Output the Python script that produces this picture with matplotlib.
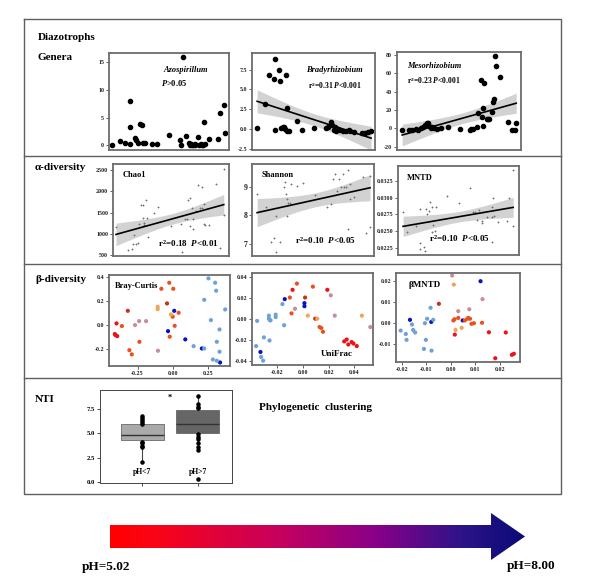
import numpy as np
import matplotlib
matplotlib.use('Agg')
import matplotlib.pyplot as plt
from matplotlib.colors import LinearSegmentedColormap
from matplotlib.patches import Polygon

plt.rcParams['font.family'] = ['Liberation Serif', 'DejaVu Serif']
plt.rcParams['font.weight'] = 'bold'
plt.rcParams['axes.unicode_minus'] = False
plt.rcParams['mathtext.fontset'] = 'custom'
plt.rcParams['mathtext.rm'] = 'Liberation Serif:bold'
plt.rcParams['mathtext.it'] = 'Liberation Serif:italic:bold'
plt.rcParams['mathtext.bf'] = 'Liberation Serif:bold'

# ---------------- data ----------------
# genera relative abundance vs soil pH
azo_ph = [5.04,5.23,5.37,5.49,5.49,5.50,5.61,5.65,5.71,5.75,5.79,5.82,5.89,6.06,6.20,6.51,6.79,6.81,6.85,6.94,
          7.01,7.05,7.08,7.10,7.13,7.16,7.18,7.24,7.28,7.32,7.36,7.39,7.41,7.44,7.53,7.76,7.83,7.93,7.94]
azo_y = [0.0,0.7,0.4,8.1,3.3,0.2,1.3,1.0,0.4,3.9,3.7,0.4,0.5,0.2,0.3,1.9,1.0,0.0,15.9,1.6,
         0.4,0.0,0.3,0.0,0.0,0.2,0.0,1.5,0.0,0.3,0.0,0.1,4.2,0.3,1.2,1.2,5.9,7.3,2.2]

br_ph = [5.08,5.27,5.39,5.50,5.53,5.53,5.62,5.65,5.67,5.72,5.76,5.77,5.81,5.82,5.84,5.89,6.08,6.20,6.52,6.82,
         6.86,6.95,6.96,7.01,7.03,7.07,7.12,7.16,7.24,7.33,7.39,7.41,7.52,7.71,7.81,7.88,7.95]
br_y = [0.09,3.12,6.84,6.32,8.80,-0.09,7.39,6.11,0.13,0.21,0.30,0.04,6.79,2.69,-0.21,-0.30,0.98,-0.17,0.13,0.13,
        0.30,0.90,0.47,-0.09,0.21,-0.21,0.04,-0.13,-0.30,-0.21,-0.13,-0.30,-0.38,-0.51,-0.47,-0.38,-0.21]
br_fit = (11.73, -1.62)   # intercept, slope of the drawn line

me_ph = [5.08,5.25,5.33,5.42,5.48,5.54,5.59,5.64,5.69,5.73,5.75,5.79,5.82,5.87,5.94,6.06,6.23,6.52,6.77,6.81,
         6.86,6.94,6.98,7.04,7.07,7.09,7.11,7.12,7.19,7.23,7.26,7.32,7.36,7.38,7.40,7.42,7.52,7.73,7.82,7.90,7.93]
me_y = [-1.8,-1.8,-1.8,-1.1,-1.8,0.0,1.1,3.6,5.5,5.5,2.5,0.0,1.8,0.0,-0.4,0.0,1.1,-1.1,-1.8,-1.1,
        -0.7,1.1,16.4,52.7,12.0,2.5,21.8,49.1,10.5,10.5,10.5,18.2,29.1,31.6,78.9,67.3,55.6,7.3,-1.8,-1.8,5.5]
me_fit = (-68.97, 12.14)

# alpha diversity vs soil pH
ch_ph = [5.03,5.34,5.47,5.48,5.50,5.57,5.61,5.64,5.69,5.75,5.75,5.77,5.78,5.84,5.85,5.88,6.05,6.16,6.49,6.78,
         6.80,6.87,6.92,6.96,7.01,7.02,7.05,7.08,7.09,7.16,7.23,7.27,7.32,7.34,7.38,7.39,7.40,7.51,7.71,7.80,7.91,7.91]
ch_y = [1159,611,635,762,968,762,786,1238,1683,1683,1381,1198,1262,1794,1381,929,1492,1643,1183,1222,
        571,1341,1341,1794,1857,1183,1619,1103,1341,1540,2151,1619,2095,1619,1699,1238,1198,1198,2175,667,2532,1445]

sh_ph = [5.08,5.30,5.43,5.51,5.56,5.56,5.67,5.76,5.79,5.82,5.84,5.84,5.86,5.91,5.95,6.10,6.25,6.55,6.86,6.97,
         7.00,7.07,7.12,7.16,7.20,7.26,7.29,7.35,7.38,7.44,7.44,7.40,7.55,7.78,7.85,7.95,7.95]
sh_y = [8.75,8.30,7.05,7.18,7.98,6.70,7.06,8.99,9.17,8.75,8.57,7.98,8.42,8.42,9.11,9.05,9.13,8.71,8.30,8.39,
        9.29,9.46,8.87,9.29,8.99,9.46,8.99,8.99,9.61,9.11,8.57,7.52,8.65,9.35,7.36,9.40,7.58]

mn_ph = [5.08,5.18,5.40,5.51,5.52,5.52,5.61,5.63,5.66,5.69,5.75,5.78,5.81,5.83,5.85,5.89,5.92,6.21,6.52,6.79,
         6.86,6.92,6.98,7.03,7.09,7.09,7.13,7.22,7.35,7.37,7.39,7.41,7.52,7.73,7.80,7.89,7.90,7.36]
mn_y = [0.0279,0.0249,0.0258,0.02315,0.0283,0.0223,0.02265,0.0220,0.0283,0.0275,
        0.0280,0.0294,0.02865,0.0249,0.0259,0.0250,0.02865,0.0302,0.02915,0.0314,
        0.0278,0.0278,0.02665,0.02815,0.0265,0.02615,0.0279,0.0271,0.02715,0.02865,
        0.0299,0.0273,0.0264,0.0265,0.0299,0.03415,0.0258,0.0233]

# beta diversity ordinations, group = pH colour class
bc_x = [-0.411,-0.406,-0.394,-0.399,-0.319,-0.361,-0.308,-0.291,-0.237,-0.082,-0.026,0.002,-0.042,0.012,0.040,-0.023,-0.002,
        -0.108,-0.108,-0.014,-0.268,-0.239,-0.190,-0.106,-0.035,0.009,0.087,0.204,0.333,
        0.146,0.221,0.221,0.251,0.268,0.298,0.305,0.310,0.282,0.310,0.329,0.329,0.369]
bc_y = [-0.074,-0.083,-0.091,0.014,0.118,-0.008,-0.207,-0.242,-0.138,0.300,0.350,0.300,0.179,-0.006,0.102,-0.096,0.069,
        0.152,0.132,0.088,0.000,0.033,0.033,-0.212,-0.050,0.118,-0.118,-0.193,-0.309,
        -0.174,0.209,-0.193,0.386,0.041,0.350,0.284,-0.138,-0.284,-0.295,-0.036,-0.220,0.129]
bc_g = ['r']*4 + ['br'] + ['ro']*7 + ['br'] + ['ro']*4 + ['o']*3 + ['m']*4 + ['db']*5 + ['lb']*13

uf_x = [-0.0359,-0.0367,-0.0333,-0.0328,-0.0312,-0.0306,-0.0267,-0.0267,-0.0259,-0.0254,
        -0.0262,-0.0214,-0.0214,-0.0161,-0.0148,-0.0143,-0.0103,-0.0082,-0.0090,-0.0063,
        -0.0048,0.0011,0.0011,0.0016,0.0037,0.0077,0.0095,0.0111,0.0129,0.0143,
        0.0156,0.0190,0.0217,0.0248,0.0322,0.0341,0.0354,0.0380,0.0394,0.0420,0.0460,0.0526]
uf_y = [-0.0018,-0.0256,-0.0312,-0.0359,-0.0394,-0.0174,0.0032,0.0003,-0.0012,-0.0012,
        -0.0203,0.0041,0.0018,0.0141,-0.0059,0.0188,0.0203,0.0276,0.0053,0.0097,
        0.0335,0.0150,0.0121,0.0203,0.0032,0.0306,0.0003,0.0003,-0.0076,-0.0085,
        -0.0121,0.0276,0.0224,0.0032,-0.0212,-0.0194,-0.0241,-0.0218,-0.0232,-0.0256,0.0032,-0.0076]
uf_g = ['lb','lb','db'] + ['lb']*12 + ['db','ro','r','ro','m','ro','db','db','br','o','ro','br','o',
                                       'ro','ro','ro','r','m','m'] + ['r']*6 + ['o','m']

bm_x = [-0.0205,-0.0184,-0.0181,-0.0167,-0.0159,-0.0154,-0.0146,-0.0110,-0.0106,-0.0102,
        -0.0097,-0.0083,-0.0080,-0.0079,-0.0072,-0.0049,0.0005,0.0012,0.0010,0.0015,
        0.0016,0.0019,0.0030,0.0030,0.0044,0.0048,0.0057,0.0067,0.0071,0.0078,
        0.0075,0.0084,0.0094,0.0121,0.0127,0.0129,0.0155,0.0181,0.0224,0.0249,0.0257]
bm_y = [-0.0035,-0.0051,-0.0079,0.0016,-0.0006,-0.0032,-0.0044,-0.0122,0.0000,-0.0079,
        0.0021,0.0073,0.0006,-0.0130,0.0016,0.0092,0.0226,0.0183,0.0013,0.0019,
        -0.0054,-0.0032,0.0057,0.0025,-0.0022,0.0013,0.0013,0.0021,0.0025,0.0021,
        0.0066,-0.0003,0.0000,0.0199,0.0002,0.0114,-0.0043,-0.0166,-0.0044,-0.0150,-0.0145]
bm_g = ['lb','lb','lb','db'] + ['lb']*8 + ['db','lb','lb'] + ['br','m','o','ro','ro','r','o','m','ro','o','db',
        'ro','ro','ro','ro','m','ro','ro','db','ro','m'] + ['r']*5

group_colors = {'r': '#ec1218', 'br': '#c8341a', 'ro': '#e9521f', 'o': '#eea55a',
                'm': '#c98c9c', 'lb': '#6ea2d4', 'db': '#0a12c4'}

# NTI boxplot
nti_groups = ['pH<7', 'pH>7']
nti_q1 = [4.33, 5.00]
nti_med = [4.85, 5.97]
nti_q3 = [5.93, 7.40]
nti_lo = [2.05, 3.30]
nti_hi = [6.81, 8.87]
nti_pts_low = [6.81, 6.6, 6.4, 6.2, 6.0, 4.15, 4.0, 3.65, 3.55, 2.05]
nti_pts_high = [8.87, 8.0, 7.75, 7.6, 4.9, 4.65, 4.4, 3.96, 3.6, 3.3, 0.34]

# ---------------- figure ----------------
W, H = 589, 588
fig = plt.figure(figsize=(W/100, H/100), dpi=100)
fig.patch.set_facecolor('white')

bg = fig.add_axes([0, 0, 1, 1], zorder=-5)
bg.set_xlim(0, W); bg.set_ylim(H, 0); bg.axis('off')

# frame and row separators
fc = '#5f5f5f'
bg.plot([24, 561, 561, 24, 24], [19, 19, 494, 494, 19], color=fc, lw=1.0)
for yy in [156, 264, 377.5]:
    bg.plot([24, 561], [yy, yy], color=fc, lw=1.0)

def px_axes(x0, y0, x1, y1):
    return fig.add_axes([x0/W, 1-y1/H, (x1-x0)/W, (y1-y0)/H])

def style(ax, xticks=False):
    for s in ax.spines.values():
        s.set_color('#6c6c6c'); s.set_linewidth(1.3)
    ax.tick_params(labelsize=4.3, length=2, width=0.5, pad=1.5, colors='#222222')
    if not xticks:
        ax.set_xticks([])

def fit_band(ax, x, y, coef=None):
    x = np.asarray(x, float); y = np.asarray(y, float)
    if coef is None:
        b, a = np.polyfit(x, y, 1)
    else:
        a, b = coef
    xs = np.linspace(x.min(), x.max(), 60)
    yh = a + b*xs
    n = len(x)
    s = np.sqrt(np.sum((y - (a + b*x))**2)/(n-2))
    se = s*np.sqrt(1/n + (xs-x.mean())**2/np.sum((x-x.mean())**2))
    ax.fill_between(xs, yh-2.03*se, yh+2.03*se, color='#c4c4c4', alpha=0.75, lw=0, zorder=1)
    ax.plot(xs, yh, color='black', lw=1.2, zorder=3)

xl = (4.95, 8.05)

# row labels
for txt, x, y in [('Diazotrophs', 38, 37), ('Genera', 38, 57), ('α-diversity', 35, 168),
                  ('β-diversity', 35, 279), ('NTI', 35, 399)]:
    bg.text(x, y, txt, fontsize=8, fontweight='bold', va='center', ha='left')

# ---- row 1: genera ----
ax = px_axes(109, 53, 229, 150)
ax.scatter(azo_ph, azo_y, s=9, color='black', zorder=2)
ax.set_xlim(*xl); ax.set_ylim(-0.85, 16.7)
ax.set_yticks([0, 5, 10, 15])
style(ax)
ax.text(0.64, 0.82, 'Azospirillum', transform=ax.transAxes, fontsize=6, style='italic', ha='center', va='center')
ax.text(0.54, 0.69, '$P$>0.05', transform=ax.transAxes, fontsize=6, ha='center', va='center')

ax = px_axes(252, 53, 375, 150)
fit_band(ax, br_ph, br_y, br_fit)
ax.scatter(br_ph, br_y, s=9, color='black', zorder=2)
ax.set_xlim(*xl); ax.set_ylim(-2.65, 9.6)
ax.set_yticks([-2.5, 0.0, 2.5, 5.0, 7.5])
ax.set_yticklabels(['-2.5', '0.0', '2.5', '5.0', '7.5'])
style(ax)
ax.text(0.67, 0.82, 'Bradyrhizobium', transform=ax.transAxes, fontsize=6, style='italic', ha='center', va='center')
ax.text(0.67, 0.66, 'r$^2$=0.31 $P$<0.001', transform=ax.transAxes, fontsize=5.5, ha='center', va='center')

ax = px_axes(397, 52, 521, 150)
fit_band(ax, me_ph, me_y, me_fit)
ax.scatter(me_ph, me_y, s=9, color='black', zorder=2)
ax.set_xlim(*xl); ax.set_ylim(-23.6, 83)
ax.set_yticks([-20, 0, 20, 40, 60, 80])
style(ax)
ax.text(0.08, 0.86, 'Mesorhizobium', transform=ax.transAxes, fontsize=6, style='italic', ha='left', va='center')
ax.text(0.08, 0.71, 'r$^2$=0.23 $P$<0.001', transform=ax.transAxes, fontsize=5.5, ha='left', va='center')

# ---- row 2: alpha diversity ----
ax = px_axes(113, 164, 229, 256)
fit_band(ax, ch_ph, ch_y)
ax.scatter(ch_ph, ch_y, s=2.5, color='#707070', marker='+', linewidths=0.6, zorder=2)
ax.set_xlim(*xl); ax.set_ylim(475, 2650)
ax.set_yticks([500, 1000, 1500, 2000, 2500])
style(ax)
ax.text(0.08, 0.88, 'Chao1', transform=ax.transAxes, fontsize=6, ha='left', va='center')
ax.text(0.39, 0.14, 'r$^2$=0.18  $P$<0.01', transform=ax.transAxes, fontsize=6.5, ha='left', va='center')

ax = px_axes(252, 164, 374, 256)
fit_band(ax, sh_ph, sh_y)
ax.scatter(sh_ph, sh_y, s=2.5, color='#707070', marker='+', linewidths=0.6, zorder=2)
ax.set_xlim(*xl); ax.set_ylim(6.56, 9.81)
ax.set_yticks([7, 8, 9])
style(ax)
ax.tick_params(labelsize=5.5)
ax.text(0.08, 0.88, 'Shannon', transform=ax.transAxes, fontsize=6, ha='left', va='center')
ax.text(0.35, 0.17, 'r$^2$=0.10  $P$<0.05', transform=ax.transAxes, fontsize=6.5, ha='left', va='center')

ax = px_axes(398, 166, 519, 255)
fit_band(ax, mn_ph, mn_y)
ax.scatter(mn_ph, mn_y, s=2.5, color='#707070', marker='+', linewidths=0.6, zorder=2)
ax.set_xlim(*xl); ax.set_ylim(0.0214, 0.03475)
ax.set_yticks([0.0225, 0.0250, 0.0275, 0.0300, 0.0325])
ax.set_yticklabels(['0.0225', '0.0250', '0.0275', '0.0300', '0.0325'])
style(ax)
ax.text(0.07, 0.87, 'MNTD', transform=ax.transAxes, fontsize=6, ha='left', va='center')
ax.text(0.26, 0.18, 'r$^2$=0.10  $P$<0.05', transform=ax.transAxes, fontsize=6.5, ha='left', va='center')

# ---- row 3: beta diversity ----
def ordination(ax, x, y, g):
    ax.scatter(x, y, s=9, c=[group_colors[k] for k in g], linewidths=0, zorder=2)

ax = px_axes(109, 275, 230, 366)
ordination(ax, bc_x, bc_y, bc_g)
ax.set_xlim(-0.452, 0.403); ax.set_ylim(-0.338, 0.414)
ax.set_xticks([-0.25, 0.0, 0.25]); ax.set_xticklabels(['-0.25', '0.00', '0.25'])
ax.set_yticks([-0.2, 0.0, 0.2, 0.4]); ax.set_yticklabels(['-0.2', '0.0', '0.2', '0.4'])
style(ax, xticks=True)
ax.text(0.05, 0.88, 'Bray-Curtis', transform=ax.transAxes, fontsize=6, ha='left', va='center')

ax = px_axes(252, 273, 373, 365)
ordination(ax, uf_x, uf_y, uf_g)
ax.set_xlim(-0.0399, 0.0547); ax.set_ylim(-0.0435, 0.0435)
ax.set_xticks([-0.02, 0.0, 0.02, 0.04]); ax.set_xticklabels(['-0.02', '0.00', '0.02', '0.04'])
ax.set_yticks([-0.04, -0.02, 0.0, 0.02, 0.04]); ax.set_yticklabels(['-0.04', '-0.02', '0.00', '0.02', '0.04'])
style(ax, xticks=True)
ax.text(0.70, 0.12, 'UniFrac', transform=ax.transAxes, fontsize=6.5, ha='center', va='center')

ax = px_axes(396, 273, 520, 362)
ordination(ax, bm_x, bm_y, bm_g)
ax.set_xlim(-0.0224, 0.0282); ax.set_ylim(-0.0184, 0.0238)
ax.set_xticks([-0.02, -0.01, 0.0, 0.01, 0.02]); ax.set_xticklabels(['-0.02', '-0.01', '0.00', '0.01', '0.02'])
ax.set_yticks([-0.01, 0.0, 0.01, 0.02]); ax.set_yticklabels(['-0.01', '0.00', '0.01', '0.02'])
style(ax, xticks=True)
ax.text(0.10, 0.86, 'βMNTD', transform=ax.transAxes, fontsize=6.5, ha='left', va='center')

# ---- row 4: NTI ----
ax = px_axes(100, 390, 232, 483)
stats = [dict(q1=nti_q1[i], med=nti_med[i], q3=nti_q3[i], whislo=nti_lo[i], whishi=nti_hi[i],
              fliers=[], label=nti_groups[i]) for i in range(2)]
bp = ax.bxp(stats, positions=[1, 2], widths=0.77, patch_artist=True, showcaps=False,
            medianprops=dict(color='#333333', lw=1.0),
            whiskerprops=dict(color='#444444', lw=0.8),
            boxprops=dict(lw=0.5, edgecolor='#555555'))
bp['boxes'][0].set_facecolor('#aaaaaa')
bp['boxes'][1].set_facecolor('#666666')
ax.scatter([1]*len(nti_pts_low), nti_pts_low, s=5, color='black', zorder=3)
ax.scatter([2]*len(nti_pts_high), nti_pts_high, s=5, color='black', zorder=3)
ax.set_xlim(0.238, 2.62); ax.set_ylim(-0.1, 9.45)
ax.set_yticks([0.0, 2.5, 5.0, 7.5])
ax.set_xticks([1, 2]); ax.set_xticklabels(['', ''])
for s in ax.spines.values():
    s.set_color('#444444'); s.set_linewidth(0.7)
ax.tick_params(labelsize=4.8, length=2, width=0.5, pad=1.5)
for i, lab in enumerate(nti_groups):
    ax.text(i+1, 1.05, lab, fontsize=5.5, ha='center', va='center')
ax.text(1.5, 8.6, '*', fontsize=6, ha='center', va='center')

bg.text(259, 408, 'Phylogenetic  clustering', fontsize=8, ha='left', va='center')

# ---- pH gradient arrow ----
arrow_cmap = LinearSegmentedColormap.from_list(
    'ph', [(0.0, '#ff0000'), (0.1, '#fb0414'), (0.4, '#c8005c'), (0.65, '#86008a'),
           (0.85, '#2c1488'), (1.0, '#0a0a78')])
arrow_pts = [(110, 525), (491, 525), (491, 513), (525, 536.5), (491, 560), (491, 548), (110, 548)]
poly = Polygon(arrow_pts, closed=True, facecolor='none', edgecolor='none')
bg.add_patch(poly)
im = bg.imshow(np.linspace(0, 1, 256).reshape(1, -1), cmap=arrow_cmap,
               extent=[110, 525, 560, 513], aspect='auto', zorder=1)
im.set_clip_path(poly)
bg.set_xlim(0, W); bg.set_ylim(H, 0)
bg.text(106, 567, 'pH=5.02', fontsize=9.5, ha='center', va='center')
bg.text(531, 566, 'pH=8.00', fontsize=9.5, ha='center', va='center')

fig.savefig('out.png', dpi=100)
